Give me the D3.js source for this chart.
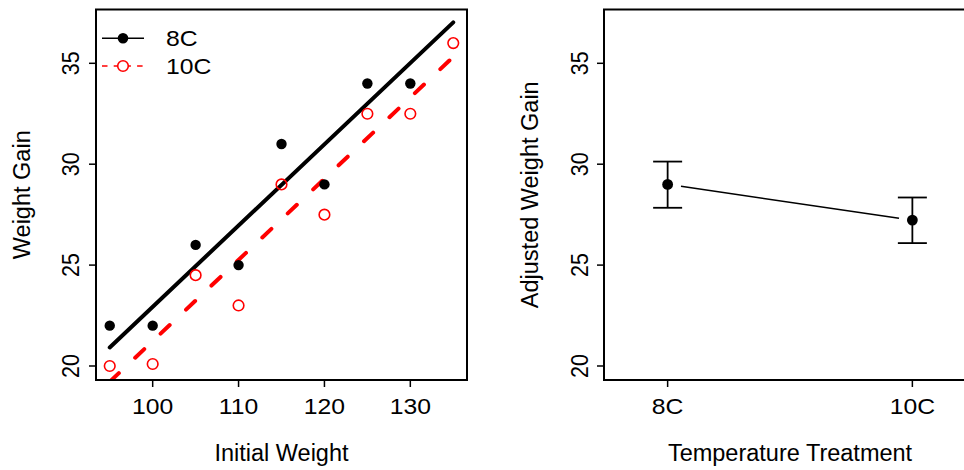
<!DOCTYPE html>
<html>
<head>
<meta charset="utf-8">
<script src="https://cdn.jsdelivr.net/npm/d3@7"></script>
<style>
  html, body { margin: 0; padding: 0; background: #fff; }
  text { font-family: "Liberation Sans", Arial, Helvetica, sans-serif; }
</style>
</head>
<body>
<div id="chart"></div>
<script>
// raw data
const weights8C = [95, 100, 105, 110, 115, 120, 125, 130];
const gain8C    = [22, 22, 26, 25, 31, 29, 34, 34];
const weights10C = [95, 100, 105, 110, 115, 120, 125, 130, 135];
const gain10C    = [20, 20.1, 24.5, 23, 29, 27.5, 32.5, 32.5, 36];

// fitted (parallel) lines, endpoints at x = 95 and x = 135
const fitX     = [95, 135];
const fit8C    = [20.92, 37.03];
const fit10C   = [19.22, 35.32];

// adjusted means with error bars
const treatments = ["8C", "10C"];
const adjMean  = [29.0, 27.23];
const adjUpper = [30.13, 28.35];
const adjLower = [27.84, 26.09];

const yTicks = [20, 25, 30, 35];
const xTicks = [100, 110, 120, 130];

const width = 964, height = 470;
const svg = d3.select("#chart").append("svg")
  .attr("width", width)
  .attr("height", height);

const fsTick = 21.5, sxTick = 1.15;   // tick + legend text is a bit wide
const fsLab = 23.5;
const plotTop = 9.5, plotBottom = 380;

const y = d3.scaleLinear().domain([19.306, 37.666]).range([plotBottom, plotTop]);

// ---------- left panel ----------
const L = { left: 96, right: 467 };
const x = d3.scaleLinear().domain([93.4, 136.6]).range([L.left, L.right]);

svg.append("clipPath").attr("id", "clipL")
  .append("rect")
  .attr("x", L.left).attr("y", plotTop)
  .attr("width", L.right - L.left).attr("height", plotBottom - plotTop);

const plotL = svg.append("g").attr("clip-path", "url(#clipL)");

const fitLine = d3.line().x(d => x(d[0])).y(d => y(d[1]));

plotL.append("path")
  .attr("d", fitLine(fitX.map((v, i) => [v, fit8C[i]])))
  .attr("stroke", "#000").attr("stroke-width", 4).attr("fill", "none")
  .attr("stroke-linecap", "round");

plotL.append("path")
  .attr("d", fitLine(fitX.map((v, i) => [v, fit10C[i]])))
  .attr("stroke", "#ff0000").attr("stroke-width", 4).attr("fill", "none")
  .attr("stroke-linecap", "round")
  .attr("stroke-dasharray", "12.5,22.5");

plotL.selectAll(".p8")
  .data(weights8C.map((w, i) => [w, gain8C[i]]))
  .join("circle")
  .attr("cx", d => x(d[0])).attr("cy", d => y(d[1]))
  .attr("r", 5.2).attr("fill", "#000");

plotL.selectAll(".p10")
  .data(weights10C.map((w, i) => [w, gain10C[i]]))
  .join("circle")
  .attr("cx", d => x(d[0])).attr("cy", d => y(d[1]))
  .attr("r", 5.3).attr("fill", "none")
  .attr("stroke", "#ff0000").attr("stroke-width", 1.6);

// frame
svg.append("rect")
  .attr("x", L.left).attr("y", plotTop)
  .attr("width", L.right - L.left).attr("height", plotBottom - plotTop)
  .attr("fill", "none").attr("stroke", "#000").attr("stroke-width", 2);

function hText(xp, yp, str, anchor) {
  return svg.append("text")
    .attr("transform", `translate(${xp},${yp}) scale(${sxTick},1)`)
    .attr("text-anchor", anchor || "middle").attr("font-size", fsTick)
    .text(str);
}

// x axis
xTicks.forEach(t => {
  svg.append("line")
    .attr("x1", x(t)).attr("x2", x(t))
    .attr("y1", plotBottom).attr("y2", plotBottom + 7)
    .attr("stroke", "#000").attr("stroke-width", 1.5);
  hText(x(t), 413.5, t);
});

// y axis (labels rotated like base R)
function yAxis(xPos, labelX) {
  yTicks.forEach(t => {
    svg.append("line")
      .attr("x1", xPos - 7).attr("x2", xPos)
      .attr("y1", y(t)).attr("y2", y(t))
      .attr("stroke", "#000").attr("stroke-width", 1.5);
    svg.append("text")
      .attr("transform", `translate(${labelX},${y(t)}) rotate(-90) scale(1,${sxTick})`)
      .attr("text-anchor", "middle").attr("font-size", fsTick)
      .text(t);
  });
}
yAxis(L.left, 79.3);

svg.append("text")
  .attr("x", (L.left + L.right) / 2).attr("y", 461)
  .attr("text-anchor", "middle").attr("font-size", fsLab)
  .text("Initial Weight");

svg.append("text")
  .attr("transform", `translate(30,${(plotTop + plotBottom) / 2}) rotate(-90)`)
  .attr("text-anchor", "middle").attr("font-size", fsLab)
  .text("Weight Gain");

// legend
const legend = [
  { label: "8C", color: "#000", dash: null, filled: true, y: 38.3 },
  { label: "10C", color: "#ff0000", dash: "5.5,6.2", filled: false, y: 66 }
];
legend.forEach(d => {
  svg.append("line")
    .attr("x1", 102).attr("x2", 144)
    .attr("y1", d.y).attr("y2", d.y)
    .attr("stroke", d.color).attr("stroke-width", 1.5)
    .attr("stroke-dasharray", d.dash);
  svg.append("circle")
    .attr("cx", 123).attr("cy", d.y).attr("r", 5.3)
    .attr("fill", d.filled ? d.color : "#fff")
    .attr("stroke", d.color).attr("stroke-width", d.filled ? 0 : 1.6);
  hText(166, d.y + 7.5, d.label, "start");
});

// ---------- right panel ----------
const R = { left: 604, right: 976 };
const xr = d3.scaleLinear().domain([0.74, 2.26]).range([R.left, R.right]);
const pos = treatments.map((t, i) => xr(i + 1));

// frame (right side falls outside the window)
svg.append("rect")
  .attr("x", R.left).attr("y", plotTop)
  .attr("width", R.right - R.left).attr("height", plotBottom - plotTop)
  .attr("fill", "none").attr("stroke", "#000").attr("stroke-width", 2);

// connecting line with gaps at points (type = "b")
const gap = 13.5;
const px = pos, py = adjMean.map(v => y(v));
const dx = px[1] - px[0], dy = py[1] - py[0];
const len = Math.hypot(dx, dy);
svg.append("line")
  .attr("x1", px[0] + dx / len * gap).attr("y1", py[0] + dy / len * gap)
  .attr("x2", px[1] - dx / len * gap).attr("y2", py[1] - dy / len * gap)
  .attr("stroke", "#000").attr("stroke-width", 1.5);

// error bars
treatments.forEach((t, i) => {
  const cx = pos[i];
  svg.append("line")
    .attr("x1", cx).attr("x2", cx)
    .attr("y1", y(adjUpper[i])).attr("y2", y(adjLower[i]))
    .attr("stroke", "#000").attr("stroke-width", 1.8);
  [adjUpper[i], adjLower[i]].forEach(v => {
    svg.append("line")
      .attr("x1", cx - 14.5).attr("x2", cx + 14.5)
      .attr("y1", y(v)).attr("y2", y(v))
      .attr("stroke", "#000").attr("stroke-width", 1.8);
  });
  svg.append("circle")
    .attr("cx", cx).attr("cy", y(adjMean[i])).attr("r", 5.4)
    .attr("fill", "#000");

  svg.append("line")
    .attr("x1", cx).attr("x2", cx)
    .attr("y1", plotBottom).attr("y2", plotBottom + 7)
    .attr("stroke", "#000").attr("stroke-width", 1.5);
  hText(cx, 413.5, t);
});

yAxis(R.left, 588.3);

svg.append("text")
  .attr("x", (R.left + R.right) / 2).attr("y", 461)
  .attr("text-anchor", "middle").attr("font-size", fsLab)
  .text("Temperature Treatment");

svg.append("text")
  .attr("transform", `translate(538,${(plotTop + plotBottom) / 2}) rotate(-90)`)
  .attr("text-anchor", "middle").attr("font-size", fsLab)
  .text("Adjusted Weight Gain");
</script>
</body>
</html>
